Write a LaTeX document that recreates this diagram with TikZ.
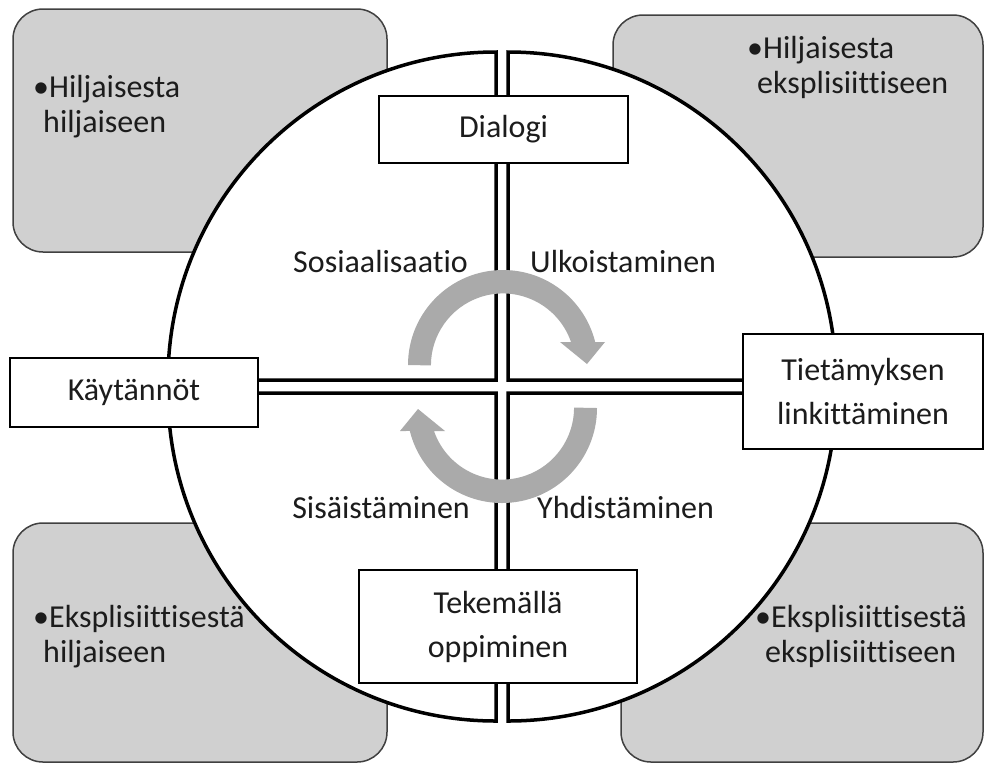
\documentclass[tikz,border=0pt]{standalone}
\usepackage{fontspec}
\setmainfont{Carlito}[Ligatures=NoCommon]
\usetikzlibrary{positioning}
\usetikzlibrary{calc}
\definecolor{seci-grey}{HTML}{D0D0D0}
\definecolor{seci-edge}{HTML}{404040}
\definecolor{seci-arrow}{HTML}{AAAAAA}
\definecolor{seci-text}{HTML}{1C1C1C}
\tikzset{
  corner/.style={
    draw=seci-edge,
    fill=seci-grey,
    line width=1.5,
    rounded corners=30},
  mode/.style 2 args={
    draw,
    fill=white,
    line width=1.4,
    minimum width=#1,
    minimum height=#2,
    inner sep=0pt,
    align=center,
    text=seci-text,
    font=\fontsize{32}{44}\selectfont},
}

\begin{document}
\begin{tikzpicture}[
  x=1pt, y=-1pt,
  quarter/.style={draw, fill=white, line width=3.5},
  phase/.style={inner sep=0pt, text=seci-text, font=\fontsize{32}{38}\selectfont},
  tip/.style={inner sep=0pt, anchor=base west, text=seci-text, font=\fontsize{32}{35}\selectfont}]
  \pgfmathsetmacro{\rad}{328}
  \useasboundingbox (0,0) rectangle (984,764);

  % grey corner boxes
  \foreach \name/\cx/\cy/\w/\h in {tl/200/130.5/374/243, tr/798/136/370/242, bl/200/642.5/374/239, br/802/642.5/362/239} {
    \node[corner, minimum width=\w, minimum height=\h] (c-\name) at (\cx,\cy) {};
  }

  % four quarters of the circle
  \foreach \cx/\cy/\a in {496/380/180, 508/380/270, 508/393/0, 496/393/90} {
    \draw[quarter] (\cx,\cy) -- ++(\a:\rad) arc[start angle=\a, delta angle=90, radius=\rad] -- cycle;
  }

  % turning arrows
  \foreach \turn in {0,180} {
    \fill[seci-arrow, rotate around={\turn:(502.5,386.5)}]
      (408,365) arc[start angle=180, end angle=346, radius=95]
      -- (605,342) -- (587,364) -- (560,342) -- (571,342)
      arc[start angle=341, end angle=180, radius=72] -- cycle;
  }

  % phases
  \node[phase, anchor=base east] (p-sos) at (468,272) {Sosiaalisaatio};
  \node[phase, anchor=base west] (p-ulk) at (530,272) {Ulkoistaminen};
  \node[phase, anchor=base east] (p-sis) at (470,518) {Sisäistäminen};
  \node[phase, anchor=base west] (p-yhd) at (537,518) {Yhdistäminen};

  % boxes on the cross
  \node[mode={249}{67}] (m-dialogi) at (503.5,129.5) {Dialogi};
  \node[mode={248}{69}] (m-kaytannot) at (134,392.5) {Käytännöt};
  \node[mode={240}{115}] (m-linkit) at (863,391.5) {Tietämyksen\\linkittäminen};
  \node[mode={278}{113}] (m-tekemalla) at (498,626.5) {Tekemällä\\oppiminen};

  % texts of the corners
  \foreach \name/\bx/\by/\one/\two in {tl/33/97/Hiljaisesta/hiljaiseen, tr/747/58/Hiljaisesta/eksplisiittiseen, bl/33/627/Eksplisiittisestä/hiljaiseen, br/755/627/Eksplisiittisestä/eksplisiittiseen} {
    \node[tip] (t-\name) at (\bx,\by) {\begin{tabular}[t]{@{}l@{}}\textbullet\one\\\hspace*{10pt}\two\end{tabular}};
  }
\end{tikzpicture}
\end{document}
